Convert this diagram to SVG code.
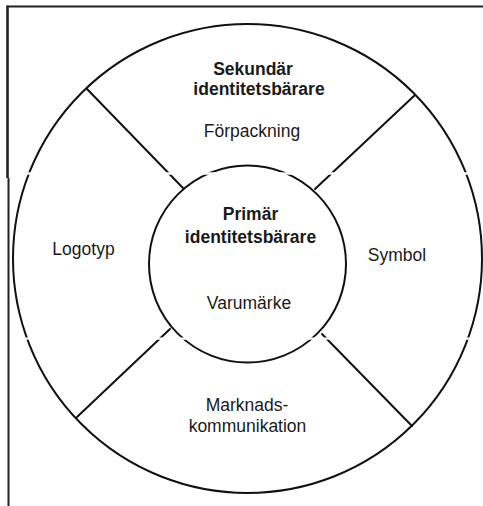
<svg xmlns="http://www.w3.org/2000/svg" width="483" height="506" viewBox="0 0 483 506">
  <style>
    .ring { fill: none; stroke: #111; stroke-width: 2; }
    .div { stroke: #111; stroke-width: 2; stroke-linecap: round; }
    .frame { stroke: #222; fill: none; }
    text { font-family: "Liberation Sans", Arial, Helvetica, sans-serif; fill: #1a1a1a; text-anchor: middle; }
    .head { font-weight: bold; font-size: 17.5px; }
    .lbl { font-size: 17.5px; }
  </style>
  <rect width="483" height="506" fill="#ffffff"/>

  <!-- page frame: top rule and left rule -->
  <g id="frame">
    <line class="frame" x1="7" y1="6.5" x2="483" y2="6.5" stroke-width="2" stroke="#444"/>
    <line class="frame" x1="7.5" y1="5.5" x2="7.5" y2="178" stroke-width="2.6" stroke="#000"/>
    <line class="frame" x1="8.5" y1="178" x2="8.5" y2="506" stroke-width="2" stroke="#000"/>
  </g>

  <!-- outer ring: secondary identity carriers -->
  <g id="outer">
    <circle class="ring" cx="247.5" cy="258.5" r="234.5"/>
  </g>

  <!-- inner disc: primary identity carrier -->
  <g id="inner">
    <circle class="ring" cx="247.5" cy="264" r="98.5"/>
    <text class="head" x="250.5" y="220">Primär</text>
    <text class="head" x="250.5" y="243">identitetsbärare</text>
    <text class="lbl" x="249" y="308.5">Varumärke</text>
  </g>

  <!-- sector dividers -->
  <g id="connectors">
    <line class="div" x1="87" y1="89" x2="183" y2="188"/>
    <line class="div" x1="415" y1="95" x2="315" y2="189"/>
    <line class="div" x1="77" y1="417" x2="170" y2="329"/>
    <line class="div" x1="412" y1="426" x2="322" y2="334"/>
  </g>

  <!-- sectors of the outer ring -->
  <g id="sector-top">
    <text class="head" x="253" y="75">Sekundär</text>
    <text class="head" x="259" y="94.5">identitetsbärare</text>
    <text class="lbl" x="252" y="137">Förpackning</text>
  </g>
  <g id="sector-left">
    <text class="lbl" x="83.5" y="254.5">Logotyp</text>
  </g>
  <g id="sector-right">
    <text class="lbl" x="397" y="261">Symbol</text>
  </g>
  <g id="sector-bottom">
    <text class="lbl" x="247" y="410.5">Marknads-</text>
    <text class="lbl" x="247.5" y="431.5">kommunikation</text>
  </g>

  <!-- scan seams crossing the page -->
  <g id="seams" fill="#ffffff">
    <rect x="10" y="172.3" width="473" height="2.4"/>
    <rect x="10" y="337.5" width="473" height="2.2"/>
  </g>
</svg>
